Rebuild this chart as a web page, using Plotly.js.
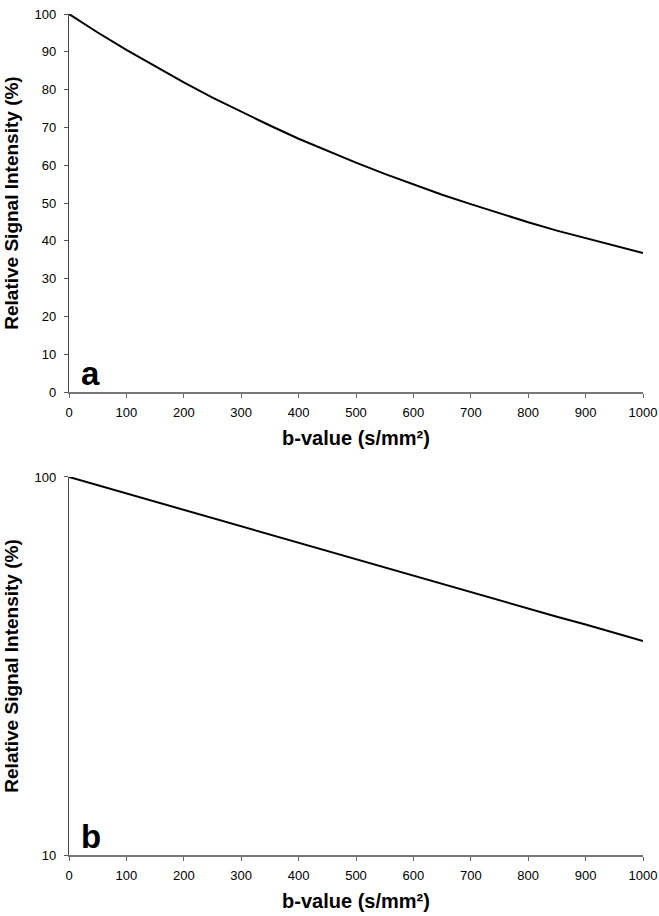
<!DOCTYPE html>
<html>
<head>
<meta charset="utf-8">
<script src="https://cdn.plot.ly/plotly-3.0.1.min.js"></script>
<style>html,body{margin:0;padding:0;background:#fff;}#chart{width:659px;height:916px;}</style>
</head>
<body>
<div id="chart"></div>
<script>
// b-values (s/mm²)
var bValues = [0, 50, 100, 150, 200, 250, 300, 350, 400, 450, 500, 550, 600, 650, 700, 750, 800, 850, 900, 950, 1000];
// Relative signal intensity (%)
var signal = [100, 95.1, 90.5, 86.1, 81.9, 77.9, 74.1, 70.5, 67.0, 63.8, 60.7, 57.7, 54.9, 52.2, 49.7, 47.2, 44.9, 42.7, 40.7, 38.7, 36.8];
var xTicks = [0, 100, 200, 300, 400, 500, 600, 700, 800, 900, 1000];
var yTicksLin = [0, 10, 20, 30, 40, 50, 60, 70, 80, 90, 100];
var yTicksLog = [10, 100];
var xTitle = 'b-value (s/mm²)';
var yTitle = 'Relative Signal Intensity (%)';
var panelLabels = ['a', 'b'];

var FONT = 'Liberation Sans, Arial, sans-serif';
var lineStyle = {color: '#000', width: 2};

var traces = [
  {x: bValues, y: signal, mode: 'lines', line: lineStyle, xaxis: 'x', yaxis: 'y', showlegend: false, hoverinfo: 'skip'},
  {x: bValues, y: signal, mode: 'lines', line: lineStyle, xaxis: 'x2', yaxis: 'y2', showlegend: false, hoverinfo: 'skip'}
];

function xAxis(anchor) {
  return {
    anchor: anchor, domain: [0, 1], range: [0, 1000],
    tickmode: 'array', tickvals: xTicks, ticktext: xTicks.map(String),
    ticks: 'outside', ticklen: 4, tickwidth: 1, tickcolor: '#666',
    ticklabelstandoff: 4,
    showline: true, linecolor: '#777', linewidth: 1.5,
    showgrid: false, zeroline: false,
    tickfont: {family: FONT, size: 13, color: '#000'},
    title: {text: xTitle, font: {family: FONT, size: 20, color: '#000', weight: 'bold'}, standoff: 12},
    automargin: false
  };
}
function yAxisBase(anchor, domain) {
  return {
    anchor: anchor, domain: domain,
    ticks: 'outside', ticklen: 4, tickwidth: 1, tickcolor: '#555',
    ticklabelstandoff: 5,
    showline: true, linecolor: '#444', linewidth: 1.2,
    showgrid: false, zeroline: false,
    tickfont: {family: FONT, size: 13, color: '#000'},
    title: {text: yTitle, font: {family: FONT, size: 19, color: '#000', weight: 'bold'}, standoff: 10},
    automargin: false
  };
}

var y1 = yAxisBase('x', [0.5505, 1]);
y1.range = [0, 100];
y1.tickmode = 'array'; y1.tickvals = yTicksLin; y1.ticktext = yTicksLin.map(String);

var y2 = yAxisBase('x2', [0, 0.4495]);
y2.type = 'log';
y2.range = [1, 2];
y2.tickmode = 'array'; y2.tickvals = yTicksLog; y2.ticktext = yTicksLog.map(String);

var layout = {
  width: 659, height: 916,
  margin: {l: 69, r: 16, t: 14, b: 61},
  paper_bgcolor: '#fff', plot_bgcolor: '#fff',
  xaxis: xAxis('y'),
  yaxis: y1,
  xaxis2: xAxis('y2'),
  yaxis2: y2,
  annotations: [
    {text: panelLabels[0], xref: 'x domain', yref: 'y domain', x: 0.038, y: 0.048, xanchor: 'center', yanchor: 'middle', showarrow: false, font: {family: FONT, size: 33, color: '#000', weight: 'bold'}},
    {text: panelLabels[1], xref: 'x2 domain', yref: 'y2 domain', x: 0.038, y: 0.05, xanchor: 'center', yanchor: 'middle', showarrow: false, font: {family: FONT, size: 33, color: '#000', weight: 'bold'}}
  ]
};

Plotly.newPlot('chart', traces, layout, {staticPlot: true, displayModeBar: false});
</script>
</body>
</html>
